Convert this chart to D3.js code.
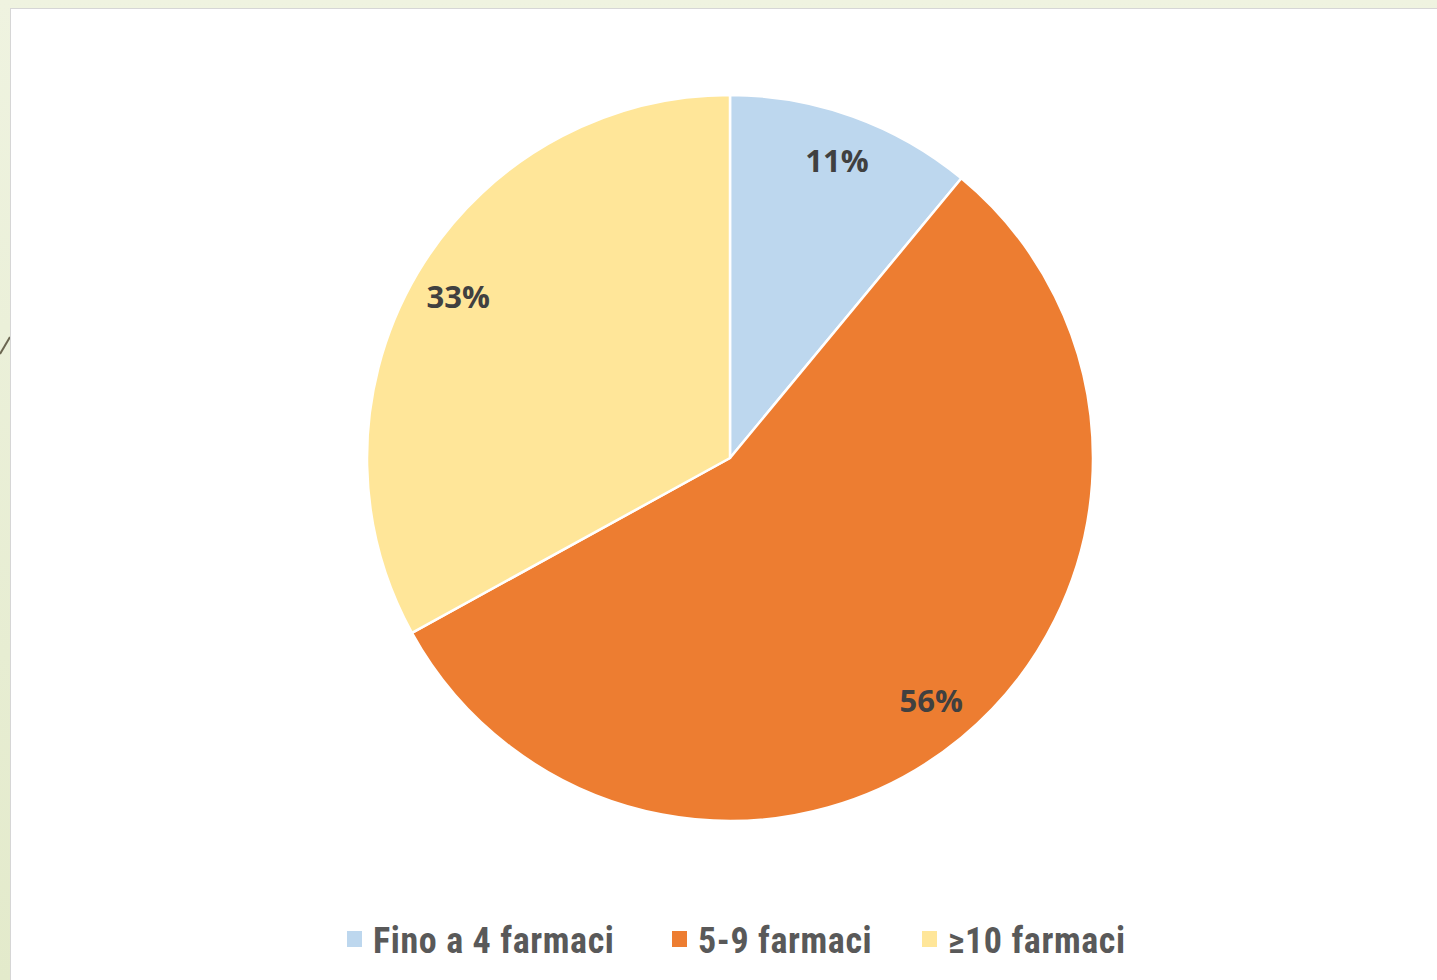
<!DOCTYPE html>
<html>
<head>
<meta charset="utf-8">
<script src="https://cdn.jsdelivr.net/npm/d3@7"></script>
<style>
  body { margin: 0; background: #eaefd6; }
  svg { display: block; }
</style>
</head>
<body>
<svg id="chart"></svg>
<script>
// chart data
var categories = ["Fino a 4 farmaci", "5-9 farmaci", "\u226510 farmaci"];
var values = [11, 56, 33];
var colors = ["#BDD7EE", "#ED7D31", "#FFE699"];

var width = 1437, height = 980;
var cx = 730, cy = 458, radius = 363;

var svg = d3.select("#chart")
    .attr("width", width)
    .attr("height", height);

// slide background
var grad = svg.append("defs").append("linearGradient")
    .attr("id", "bg").attr("x1", 0).attr("y1", 0).attr("x2", 0).attr("y2", 1);
grad.append("stop").attr("offset", "0%").attr("stop-color", "#eff3e0");
grad.append("stop").attr("offset", "100%").attr("stop-color", "#e3eacb");
svg.append("rect").attr("width", width).attr("height", height).attr("fill", "url(#bg)");

svg.append("line")
    .attr("x1", 0).attr("y1", 354).attr("x2", 10).attr("y2", 337)
    .attr("stroke", "#6b6650").attr("stroke-width", 2);

// white chart panel
svg.append("rect")
    .attr("x", 10.5).attr("y", 8.5)
    .attr("width", width).attr("height", height)
    .attr("fill", "#ffffff")
    .attr("stroke", "#d6d6d6").attr("stroke-width", 1);

var pie = d3.pie().sort(null).value(function(d){ return d; });
var arc = d3.arc().innerRadius(0).outerRadius(radius);
var labelArc = d3.arc().innerRadius(radius * 0.87).outerRadius(radius * 0.87);

var arcs = pie(values);

var g = svg.append("g").attr("transform", "translate(" + cx + "," + cy + ")");

g.selectAll("path")
    .data(arcs)
    .enter()
    .append("path")
    .attr("d", arc)
    .attr("fill", function(d, i){ return colors[i]; })
    .attr("stroke", "#ffffff")
    .attr("stroke-width", 2.5)
    .attr("stroke-linejoin", "round");

g.selectAll("text.pct")
    .data(arcs)
    .enter()
    .append("text")
    .attr("class", "pct")
    .attr("x", function(d){ return labelArc.centroid(d)[0]; })
    .attr("y", function(d){ return labelArc.centroid(d)[1]; })
    .attr("dy", "0.36em")
    .attr("text-anchor", "middle")
    .style("font-family", "'Open Sans', 'DejaVu Sans', sans-serif")
    .style("font-weight", "bold")
    .style("font-size", "31px")
    .style("fill", "#404040")
    .text(function(d){ return d.data + "%"; });

// legend
var legendX = [347, 672, 922];
var legend = svg.append("g");
var items = legend.selectAll("g")
    .data(categories)
    .enter()
    .append("g")
    .attr("transform", function(d, i){ return "translate(" + legendX[i] + ",931)"; });

items.append("rect")
    .attr("width", 15).attr("height", 16)
    .attr("fill", function(d, i){ return colors[i]; });

items.append("text")
    .attr("x", 26)
    .attr("y", 22)
    .style("font-family", "'Roboto Condensed', 'Liberation Sans Narrow', 'Open Sans', sans-serif")
    .style("font-weight", "bold")
    .style("font-size", "36px")
    .style("letter-spacing", "0.6px")
    .style("fill", "#595959")
    .text(function(d){ return d; });
</script>
</body>
</html>
